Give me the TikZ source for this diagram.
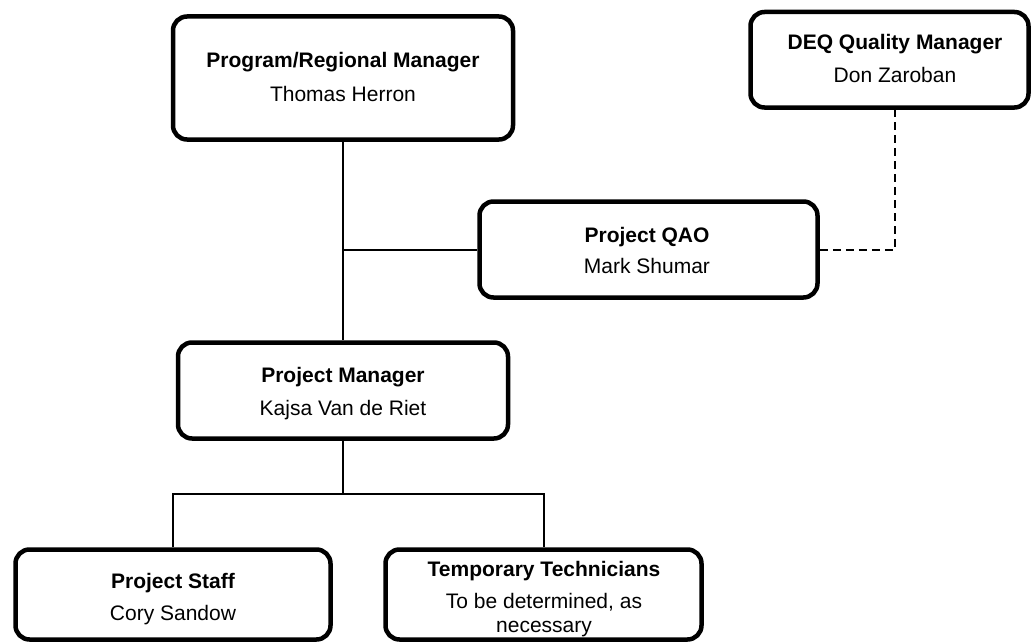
\documentclass[tikz,border=0pt]{standalone}
\usepackage{fontspec}
\setmainfont{Liberation Sans}
\begin{document}
\begin{tikzpicture}[x=1pt,y=-1pt,
  orgbox/.style={draw=black,line width=4.5pt,rounded corners=14pt,fill=white,inner sep=0pt},
  titletext/.style={anchor=base,inner sep=0pt,font=\fontsize{21}{25}\selectfont\bfseries},
  nametext/.style={anchor=base,inner sep=0pt,font=\fontsize{21}{25}\selectfont},
  link/.style={draw=black,line width=2pt},
  dlink/.style={draw=black,line width=2pt,dash pattern=on 8pt off 5pt}]
\useasboundingbox (0,0) rectangle (1031,642);
% boxes
\node[orgbox,minimum width=340pt,minimum height=123pt] (b1) at (343,78) {};
\node[orgbox,minimum width=278pt,minimum height=95.5pt] (b2) at (889.5,59.75) {};
\node[orgbox,minimum width=338pt,minimum height=96pt] (b3) at (648.5,249.5) {};
\node[orgbox,minimum width=330pt,minimum height=96pt] (b4) at (343,390.5) {};
\node[orgbox,minimum width=315pt,minimum height=90pt] (b5) at (173,594.5) {};
\node[orgbox,minimum width=316pt,minimum height=90pt] (b6) at (543.5,594.5) {};
% texts
\node[titletext] (t1) at (343,68) {Program/Regional Manager};
\node[nametext] (n1) at (343,102) {Thomas Herron};
\node[titletext] (t2) at (895,50) {DEQ Quality Manager};
\node[nametext] (n2) at (895,82) {Don Zaroban};
\node[titletext] (t3) at (647,242) {Project QAO};
\node[nametext] (n3) at (647,273) {Mark Shumar};
\node[titletext] (t4) at (343,382) {Project Manager};
\node[nametext] (n4) at (343,415) {Kajsa Van de Riet};
\node[titletext] (t5) at (173,588) {Project Staff};
\node[nametext] (n5) at (173,620) {Cory Sandow};
\node[titletext] (t6) at (544,576) {Temporary Technicians};
\node[nametext] (n6a) at (544,608) {To be determined, as};
\node[nametext] (n6b) at (544,632) {necessary};
% connectors
\coordinate (dq) at (895,0);
\coordinate (busy) at (0,494);
\draw[link] (b1.south) -- (b1.south |- b4.north);
\draw[link] (b1.south |- b3.west) -- (b3.west);
\draw[dlink] (b3.east) -| (dq |- b2.south);
\draw[link] (b4.south) -- (b4.south |- busy);
\draw[link] (b5.north) |- (b4.south |- busy) -| (b6.north);
\end{tikzpicture}
\end{document}
